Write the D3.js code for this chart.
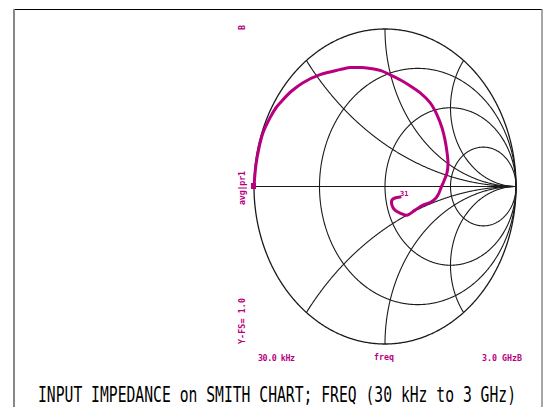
<!DOCTYPE html>
<html><head><meta charset="utf-8">
<script src="https://cdn.jsdelivr.net/npm/d3@7"></script>
<style>body{margin:0;background:#fff}svg{display:block}</style>
</head><body>
<script>
// Grid values
const resistanceCircles = [0, 1/3, 1, 3];
const reactanceArcs = [0.5, 1, 2, -0.5, -1, -2];
const gammaRe = [-1.000,-0.985,-0.962,-0.931,-0.878,-0.832,-0.779,-0.710,-0.626,-0.496,-0.344,-0.267,-0.176,-0.099,-0.031,0.038,0.115,0.191,0.267,0.344,0.397,0.435,0.458,0.473,0.481,0.473,0.450,0.427,0.412,0.389,0.351,0.290,0.229,0.168,0.115,0.076,0.053,0.053,0.076,0.115];
const gammaIm = [0.000,0.137,0.245,0.341,0.436,0.500,0.551,0.608,0.659,0.710,0.742,0.755,0.755,0.748,0.736,0.710,0.678,0.640,0.596,0.532,0.455,0.373,0.296,0.220,0.148,0.086,0.035,-0.010,-0.042,-0.073,-0.099,-0.118,-0.150,-0.182,-0.169,-0.150,-0.118,-0.086,-0.073,-0.067];
const title = "INPUT IMPEDANCE on SMITH CHART; FREQ (30 kHz to 3 GHz)";
const startLabel = "30.0  kHz", midLabel = "freq", endLabel = "3.0  GHz";
const traceLabel = "avg|pr1", scaleLabel = "Y-FS= 1.0", markerLabel = "31", topLabel = "B", endMark = "B";

const W = 547, H = 407, MAG = "#b8007f";
const svg = d3.select("body").append("svg").attr("width", W).attr("height", H);

// Frame
svg.append("line").attr("x1",14).attr("x2",542).attr("y1",9.5).attr("y2",9.5).attr("stroke","#000").attr("stroke-width",1.2);
svg.append("line").attr("x1",14).attr("x2",14).attr("y1",9).attr("y2",H).attr("stroke","#888").attr("stroke-width",2);
svg.append("line").attr("x1",542).attr("x2",542).attr("y1",9).attr("y2",H).attr("stroke","#888").attr("stroke-width",1.5);

const x = d3.scaleLinear().domain([-1,1]).range([254,516]);
const y = d3.scaleLinear().domain([-1,1]).range([344,29]);
const line = d3.line().x(d=>x(d[0])).y(d=>y(d[1]));

const g = svg.append("g").attr("fill","none").attr("stroke","#1a1a1a").attr("stroke-width",1.1);
// resistance circles
resistanceCircles.forEach(r=>{
  const pts=[];
  for(let i=0;i<=720;i++){
    const phi=-Math.PI/2+Math.PI*i/720*0.99999+Math.PI*0.000005;
    const t=Math.tan(phi);
    const d=(r+1)*(r+1)+t*t;
    pts.push([(r*r-1+t*t)/d, 2*t/d]);
  }
  pts.unshift([1,0]); pts.push([1,0]);
  g.append("path").attr("d", line(pts)).attr("stroke-width", r===0?1.3:1.1);
});
// reactance arcs
reactanceArcs.forEach(xx=>{
  const pts=[];
  for(let i=0;i<=400;i++){
    const phi=Math.PI/2*i/400*0.9999;
    const s=Math.tan(phi);
    const d=(s+1)*(s+1)+xx*xx;
    pts.push([(s*s-1+xx*xx)/d, 2*xx/d]);
  }
  pts.push([1,0]);
  g.append("path").attr("d", line(pts));
});
// real axis
g.append("path").attr("d", line([[-1,0],[1,0]]));

// trace
const trace = gammaRe.map((v,i)=>[v,gammaIm[i]]);
const smooth = d3.line().x(d=>x(d[0])).y(d=>y(d[1])).curve(d3.curveCatmullRom.alpha(0.5));
svg.append("path").attr("d", smooth(trace)).attr("fill","none").attr("stroke",MAG)
  .attr("stroke-width",3).attr("stroke-linejoin","round").attr("stroke-linecap","round");
// start marker
svg.append("rect").attr("x", x(trace[0][0])-3).attr("y", y(trace[0][1])-3.5).attr("width",5).attr("height",6).attr("fill",MAG);
// marker label at end
const last = trace[trace.length-1];
svg.append("text").attr("x", x(last[0])).attr("y", y(last[1])-1).attr("fill",MAG)
  .attr("font-family","DejaVu Sans Mono").attr("font-weight","bold").attr("font-size",7).text(markerLabel);

const small = (t)=>t.attr("fill",MAG).attr("font-family","DejaVu Sans Mono").attr("font-weight","bold").attr("font-size",8.3);
small(svg.append("text").attr("transform","translate(245,205) rotate(-90)")).attr("textLength",34).text(traceLabel);
small(svg.append("text").attr("transform","translate(245,344) rotate(-90)")).attr("textLength",46).text(scaleLabel);
small(svg.append("text").attr("transform","translate(245,30) rotate(-90)")).text(topLabel);
small(svg.append("text").attr("x",258).attr("y",361)).attr("textLength",37).text(startLabel);
small(svg.append("text").attr("x",384).attr("y",360).attr("text-anchor","middle")).text(midLabel);
small(svg.append("text").attr("x",482).attr("y",361)).attr("textLength",35).text(endLabel);
small(svg.append("text").attr("x",517).attr("y",361)).text(endMark);

// title
svg.append("text").attr("transform","translate(38,402) scale(1,1.5)")
  .attr("font-family","DejaVu Sans Mono").attr("font-size",14.6).attr("fill","#000")
  .attr("textLength",478).attr("lengthAdjust","spacingAndGlyphs").text(title);
</script>
</body></html>
